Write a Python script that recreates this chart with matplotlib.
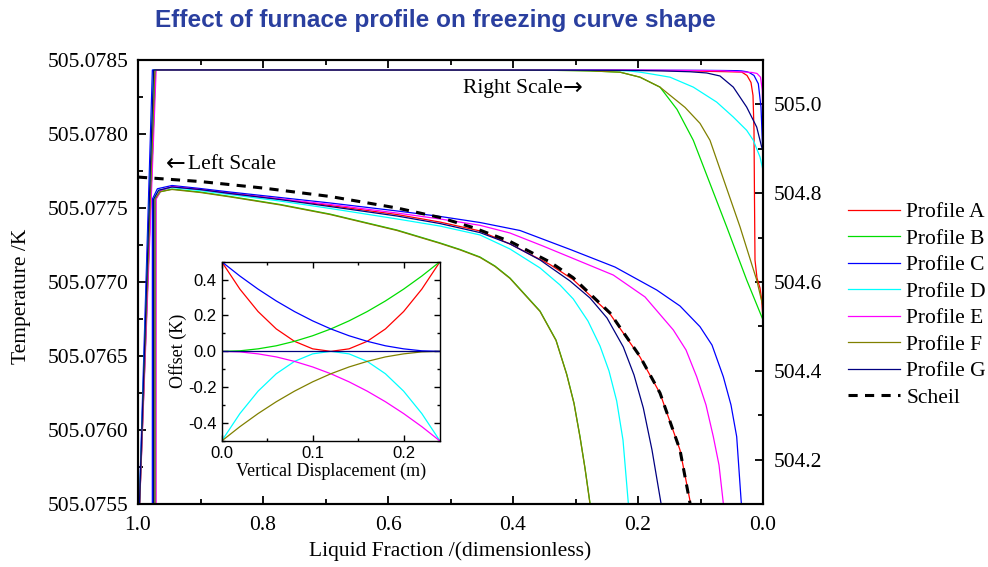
import matplotlib
matplotlib.use("Agg")
import matplotlib.pyplot as plt
from matplotlib.ticker import FixedLocator, FormatStrFormatter

plt.rcParams['font.family'] = ['Liberation Serif', 'DejaVu Serif']
plt.rcParams['axes.unicode_minus'] = False

# ---------------- data: liquid fraction vs temperature (K) ----------------
frac_A = [1.0, 0.972, 0.964, 0.9456, 0.9008, 0.8528, 0.7728, 0.6928, 0.5856, 0.5168,
          0.4528, 0.4048, 0.3408, 0.304, 0.2448, 0.1968, 0.1648, 0.1328, 0.116, 0.09,
          0.06, 0.0341, 0.0256, 0.0192, 0.016, 0.0144, 0.0136, 0.0128, 0.0096, 0.0048,
          0.0021, 0.0]
temp_A = [504.0, 505.07756, 505.07762, 505.077642, 505.077625, 505.077601, 505.077561,
          505.077517, 505.077456, 505.077405, 505.077345, 505.077257, 505.077118,
          505.077017, 505.076784, 505.076493, 505.076248, 505.075865, 505.075505,
          505.0745, 505.0737, 505.0728, 505.0652, 505.0494, 505.0202, 504.9416,
          504.7843, 504.6494, 504.6090, 504.5865, 504.5596, 504.5146]

frac_B = [1.0, 0.972, 0.964, 0.9456, 0.9008, 0.8528, 0.7728, 0.6928, 0.5856, 0.5168,
          0.4848, 0.4528, 0.4288, 0.4048, 0.3568, 0.3312, 0.3141, 0.3024, 0.2928,
          0.2848, 0.2768, 0.2288, 0.1968, 0.1648, 0.1376, 0.1115, 0.0581, 0.0261, 0.0]
temp_B = [504.0, 505.07756, 505.07761, 505.077628, 505.077608, 505.077578, 505.077524,
          505.077459, 505.077351, 505.077264, 505.07722, 505.077169, 505.077108,
          505.077027, 505.076804, 505.076608, 505.076378, 505.076182, 505.075955,
          505.075743, 505.075505, 505.0726, 505.0613, 505.0389, 504.9888, 504.9191,
          504.7243, 504.6045, 504.5146]

frac_C = [1.0, 0.977, 0.969, 0.9456, 0.9008, 0.8528, 0.7728, 0.6928, 0.5856, 0.5168,
          0.4528, 0.3888, 0.3061, 0.2368, 0.1701, 0.1328, 0.1008, 0.0816, 0.0635,
          0.0512, 0.0421, 0.0347, 0.0256, 0.0208, 0.0144, 0.0075, 0.0032, 0.0005, 0.0]
temp_C = [504.0, 505.07756, 505.07763, 505.077652, 505.077632, 505.077608, 505.077571,
          505.077534, 505.07748, 505.077443, 505.077402, 505.077348, 505.077216,
          505.077101, 505.076946, 505.076838, 505.076698, 505.076574, 505.07636,
          505.076169, 505.075955, 505.075505, 505.0735, 505.0708, 505.0652, 505.0465,
          504.9939, 504.8966, 504.8404]

frac_D = [1.0, 0.975, 0.967, 0.9456, 0.9008, 0.8528, 0.7728, 0.6928, 0.5856, 0.5168,
          0.4528, 0.4048, 0.3568, 0.3248, 0.3035, 0.28, 0.2608, 0.2464, 0.2341, 0.224,
          0.2155, 0.1968, 0.1808, 0.1488, 0.1115, 0.0741, 0.0475, 0.0261, 0.0155,
          0.0048, 0.0]
temp_D = [504.0, 505.07756, 505.07762, 505.077639, 505.077618, 505.077591, 505.077547,
          505.077497, 505.077426, 505.077378, 505.077318, 505.077223, 505.077095,
          505.07698, 505.076885, 505.076736, 505.076568, 505.076399, 505.076196,
          505.075932, 505.075505, 505.0726, 505.069, 505.0613, 505.0389, 505.0052,
          504.9715, 504.9416, 504.9191, 504.8816, 504.8517]

frac_E = [1.0, 0.971, 0.963, 0.9456, 0.9008, 0.8528, 0.7728, 0.6928, 0.5856, 0.5168,
          0.4528, 0.4048, 0.352, 0.2395, 0.1888, 0.1435, 0.1232, 0.1061, 0.0912,
          0.0795, 0.0704, 0.0635, 0.0368, 0.0176, 0.0096, 0.004, 0.0011, 0.0005, 0.0]
temp_E = [504.0, 505.07756, 505.07762, 505.077645, 505.077625, 505.077598, 505.077561,
          505.077524, 505.077466, 505.077426, 505.077383, 505.077331, 505.077243,
          505.077047, 505.076899, 505.076676, 505.076541, 505.07636, 505.076169,
          505.075955, 505.075764, 505.075505, 505.0735, 505.0719, 505.0697, 505.0613,
          505.0315, 504.9753, 504.9483]

frac_F = [1.0, 0.973, 0.965, 0.9456, 0.9008, 0.8528, 0.7728, 0.6928, 0.5856, 0.5168,
          0.4848, 0.4528, 0.4288, 0.4048, 0.3568, 0.3312, 0.3141, 0.3024, 0.2928,
          0.2848, 0.2768, 0.2288, 0.1968, 0.1648, 0.1248, 0.1008, 0.0848, 0.0368,
          0.0101, 0.0]
temp_F = [504.0, 505.07756, 505.07761, 505.077625, 505.077605, 505.077575, 505.077521,
          505.077456, 505.077348, 505.077261, 505.077217, 505.077166, 505.077105,
          505.077024, 505.076801, 505.076605, 505.076375, 505.076179, 505.075952,
          505.07574, 505.075502, 505.0726, 505.0613, 505.0389, 504.9933, 504.9573,
          504.9191, 504.7243, 504.6045, 504.5445]

frac_G = [1.0, 0.975, 0.967, 0.9456, 0.9008, 0.8528, 0.7728, 0.6928, 0.5856, 0.5168,
          0.4528, 0.4048, 0.3568, 0.3088, 0.2768, 0.2496, 0.2235, 0.2064, 0.1915,
          0.1776, 0.1632, 0.1168, 0.0901, 0.0688, 0.0475, 0.0261, 0.0101, 0.0021, 0.0]
temp_G = [504.0, 505.07756, 505.07762, 505.077642, 505.077625, 505.077598, 505.077557,
          505.07751, 505.077446, 505.077395, 505.077334, 505.077257, 505.077149,
          505.077007, 505.076892, 505.076757, 505.076561, 505.076372, 505.076149,
          505.075865, 505.075505, 505.0735, 505.0708, 505.064, 505.0389, 504.9939,
          504.949, 504.904, 504.8966]

frac_scheil = [1.0, 0.9008, 0.8, 0.6928, 0.5856, 0.5168, 0.464, 0.4048, 0.3408, 0.304,
               0.2448, 0.1968, 0.1648, 0.1328, 0.1168, 0.1104]
temp_scheil = [505.077709, 505.077679, 505.077635, 505.077578, 505.0775, 505.077436,
               505.077368, 505.077274, 505.077135, 505.07703, 505.076791, 505.076497,
               505.07625, 505.075865, 505.075505, 505.075324]

profile_labels = ['Profile A', 'Profile B', 'Profile C', 'Profile D',
                  'Profile E', 'Profile F', 'Profile G']
profile_fracs = [frac_A, frac_B, frac_C, frac_D, frac_E, frac_F, frac_G]
profile_temps = [temp_A, temp_B, temp_C, temp_D, temp_E, temp_F, temp_G]
scheil_label = 'Scheil'

# ---------------- data: furnace offset profiles (inset) ----------------
displacement = [0.0, 0.02, 0.04, 0.06, 0.08, 0.10, 0.12, 0.14, 0.16, 0.18, 0.20, 0.22, 0.24]
offset_A = [0.5, 0.347, 0.222, 0.125, 0.056, 0.014, 0.0, 0.014, 0.056, 0.125, 0.222, 0.347, 0.5]
offset_B = [0.0, 0.003, 0.014, 0.031, 0.056, 0.087, 0.125, 0.170, 0.222, 0.281, 0.347, 0.420, 0.5]
offset_C = [0.5, 0.420, 0.347, 0.281, 0.222, 0.170, 0.125, 0.087, 0.056, 0.031, 0.014, 0.003, 0.0]
offset_D = [-0.5, -0.347, -0.222, -0.125, -0.056, -0.014, 0.0, -0.014, -0.056, -0.125, -0.222, -0.347, -0.5]
offset_E = [0.0, -0.003, -0.014, -0.031, -0.056, -0.087, -0.125, -0.170, -0.222, -0.281, -0.347, -0.420, -0.5]
offset_F = [-0.5, -0.420, -0.347, -0.281, -0.222, -0.170, -0.125, -0.087, -0.056, -0.031, -0.014, -0.003, 0.0]
offset_G = [0.0] * 13
profile_offsets = [offset_A, offset_B, offset_C, offset_D, offset_E, offset_F, offset_G]

# ---------------- axis ticks ----------------
x_ticks = [1.0, 0.8, 0.6, 0.4, 0.2, 0.0]
x_minor = [0.9, 0.7, 0.5, 0.3, 0.1]
left_ticks = [505.0755, 505.0760, 505.0765, 505.0770, 505.0775, 505.0780, 505.0785]
left_minor = [505.07575, 505.07625, 505.07675, 505.07725, 505.07775, 505.07825]
right_ticks = [504.2, 504.4, 504.6, 504.8, 505.0]
right_minor = [504.1, 504.3, 504.5, 504.7, 504.9, 505.1]
inset_xticks = [0.0, 0.1, 0.2]
inset_xminor = [0.05, 0.15]
inset_yticks = [-0.4, -0.2, 0.0, 0.2, 0.4]
inset_yminor = [-0.5, -0.3, -0.1, 0.1, 0.3, 0.5]

# ---------------- styling ----------------
colors = ['#ff0000', '#00dd00', '#0000ff', '#00ffff', '#ff00ff', '#808000', '#000080']
W, H = 988, 567
FS = 15.5
SANS = ['Liberation Sans', 'DejaVu Sans']

fig = plt.figure(figsize=(W / 100, H / 100), dpi=100)
ax = fig.add_axes([138 / W, (H - 504) / H, 625 / W, 444 / H])
axr = ax.twinx()

ax.set_xlim(1.0, 0.0)
ax.set_ylim(505.0755, 505.0785)
axr.set_ylim(504.1, 505.1)

lines = []
for fr, tp, c in zip(profile_fracs, profile_temps, colors):
    ln, = ax.plot(fr, tp, color=c, lw=0.9)
    axr.plot(fr, tp, color=c, lw=0.9)
    lines.append(ln)
sch, = ax.plot(frac_scheil, temp_scheil, color='black', lw=2.2, ls=(0, (3, 2.4)))
lines.append(sch)

for a in (ax, axr):
    for s in a.spines.values():
        s.set_linewidth(1.5)

ax.xaxis.set_major_locator(FixedLocator(x_ticks))
ax.xaxis.set_minor_locator(FixedLocator(x_minor))
ax.xaxis.set_major_formatter(FormatStrFormatter('%.1f'))
ax.yaxis.set_major_locator(FixedLocator(left_ticks))
ax.yaxis.set_minor_locator(FixedLocator(left_minor))
ax.yaxis.set_major_formatter(FormatStrFormatter('%.4f'))
axr.yaxis.set_major_locator(FixedLocator(right_ticks))
axr.yaxis.set_minor_locator(FixedLocator(right_minor))
axr.yaxis.set_major_formatter(FormatStrFormatter('%.1f'))

ax.tick_params(which='both', direction='in', top=True, right=False, labelsize=FS, width=1.3)
ax.tick_params(which='major', length=6)
ax.tick_params(which='minor', length=3.5)
ax.tick_params(axis='x', pad=9)
ax.tick_params(axis='y', pad=7)
axr.tick_params(which='both', direction='in', labelsize=FS, width=1.3)
axr.tick_params(which='major', length=6)
axr.tick_params(which='minor', length=3.5)
axr.tick_params(axis='y', pad=8)

fig.text(22 / W, 1 - 296 / H, 'Temperature /K', rotation=90, ha='center', va='center', fontsize=FS)
fig.text(450 / W, 1 - 551 / H, 'Liquid Fraction /(dimensionless)', ha='center', va='center', fontsize=FS)
fig.text(435 / W, 1 - 21 / H, 'Effect of furnace profile on freezing curve shape',
         ha='center', va='center', fontsize=17.6, fontweight='bold', color='#2a3f9f', family=SANS)

# scale annotations
fig.text(463 / W, 1 - 89 / H, 'Right Scale', ha='left', va='center', fontsize=FS)
fig.text(563 / W, 1 - 88 / H, '\u2192', ha='left', va='center', fontsize=17, family=['DejaVu Sans'])
fig.text(166 / W, 1 - 164 / H, '\u2190', ha='left', va='center', fontsize=17, family=['DejaVu Sans'])
fig.text(188 / W, 1 - 165 / H, 'Left Scale', ha='left', va='center', fontsize=FS)

fig.legend(lines, profile_labels + [scheil_label], loc='upper left',
           bbox_to_anchor=(848 / W, 1 - 202 / H), frameon=False, fontsize=FS,
           handlelength=2.4, handletextpad=0.3, labelspacing=0.30,
           borderpad=0, borderaxespad=0)

# ---------------- inset: furnace offset profiles ----------------
axin = fig.add_axes([221.7 / W, (H - 441) / H, 218.3 / W, 179.3 / H])
for off, c in zip(profile_offsets, colors):
    axin.plot(displacement, off, color=c, lw=0.9)
axin.set_xlim(0.0, 0.24)
axin.set_ylim(-0.5, 0.5)
axin.xaxis.set_major_locator(FixedLocator(inset_xticks))
axin.xaxis.set_minor_locator(FixedLocator(inset_xminor))
axin.yaxis.set_major_locator(FixedLocator(inset_yticks))
axin.yaxis.set_minor_locator(FixedLocator(inset_yminor))
axin.xaxis.set_major_formatter(FormatStrFormatter('%.1f'))
axin.yaxis.set_major_formatter(FormatStrFormatter('%.1f'))
axin.tick_params(which='both', direction='in', top=True, right=True, width=1.0)
axin.tick_params(which='major', length=4)
axin.tick_params(which='minor', length=2.5)
for lab in axin.get_xticklabels() + axin.get_yticklabels():
    lab.set_family(SANS)
    lab.set_fontsize(12)
for s in axin.spines.values():
    s.set_linewidth(1.0)
axin.set_xlabel('Vertical Displacement (m)', fontsize=13, labelpad=1)
axin.set_ylabel('Offset (K)', fontsize=13, labelpad=1)

fig.savefig('out.png', dpi=100)
